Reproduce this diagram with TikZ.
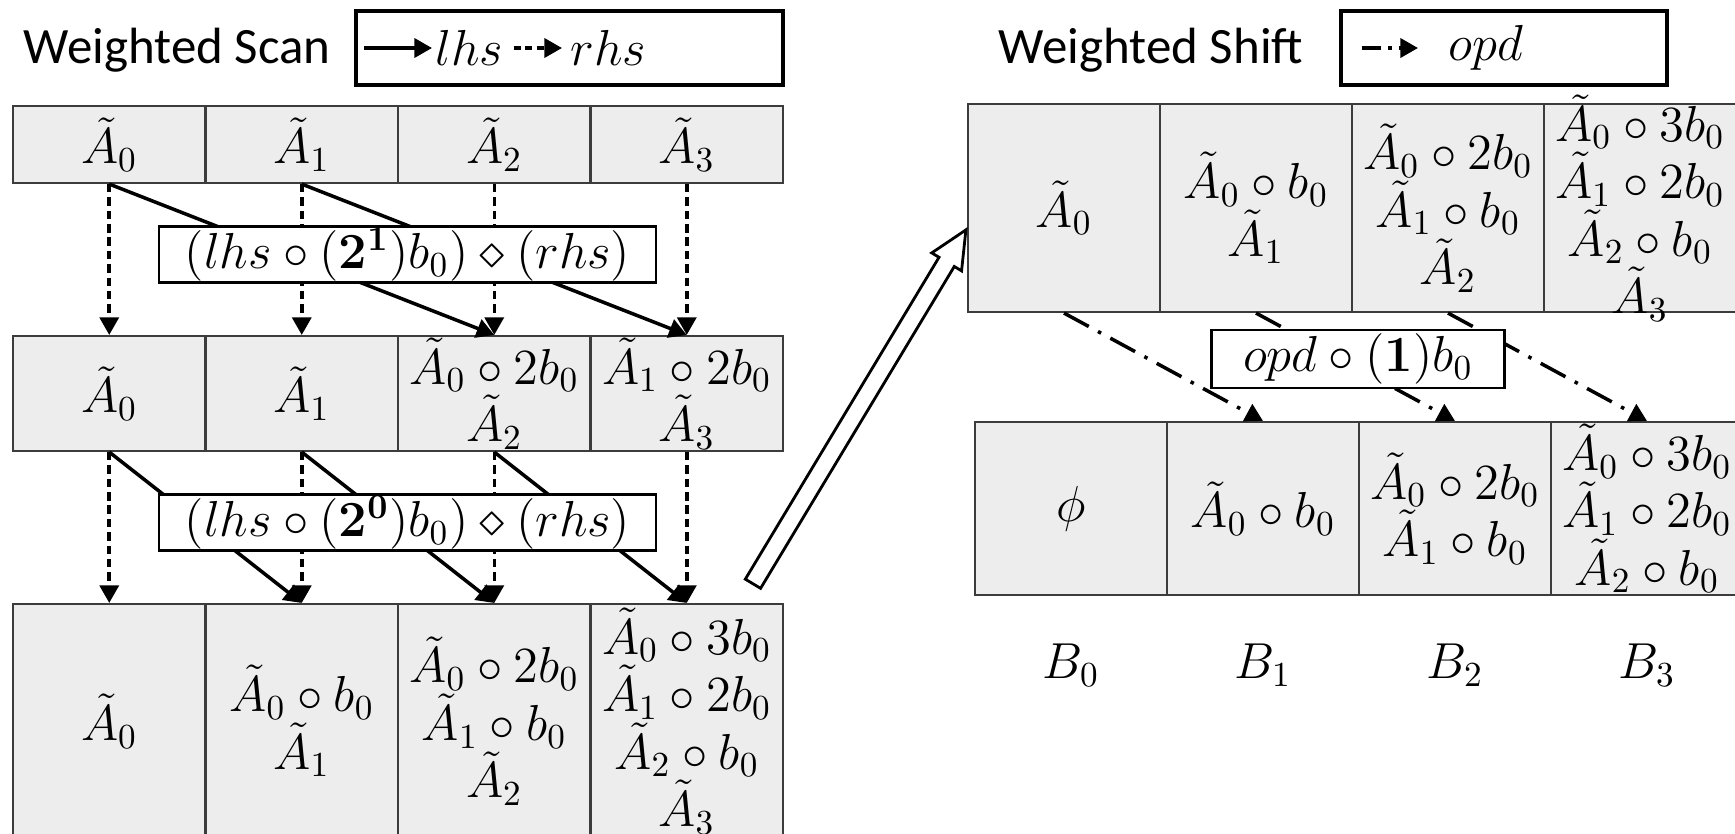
\documentclass[tikz,border=0pt]{standalone}
\usepackage[no-math]{fontspec}
\setmainfont{Carlito}
\definecolor{CellGray}{RGB}{237,237,237}
\definecolor{LineGray}{RGB}{60,60,60}
\usepackage{amsmath, amssymb}
\usepackage{tikz}
\usetikzlibrary{positioning, arrows.meta, shapes.arrows}

\newcommand{\At}[1]{\tilde{A}_{#1}}

\begin{document}
\begin{tikzpicture}[
    cell/.style={draw=LineGray, fill=CellGray, line width=0.6pt, inner xsep=0pt, inner ysep=-4pt,
      minimum width=1.92cm, align=center, font=\fontsize{14.5}{14.5}\selectfont},
    opbox/.style={draw, fill=white, line width=0.8pt, inner sep=0pt,
      minimum height=0.56cm, font=\fontsize{14.5}{14.5}\selectfont},
    legendbox/.style={draw, line width=1pt, minimum height=0.74cm},
    legendtext/.style={anchor=west, inner sep=0pt, font=\fontsize{14.5}{14.5}\selectfont},
    title/.style={font=\fontsize{14.5}{16}\selectfont},
    lhsarrow/.style={-{Triangle[length=5pt, width=5.4pt]}, line width=1pt},
    rhsarrow/.style={lhsarrow, dash pattern=on 2.4pt off 1.4pt},
    opdarrow/.style={lhsarrow, dash pattern=on 8pt off 3pt on 1pt off 3pt},
    flowarrow/.style={draw, fill=white, line width=0.8pt, single arrow,
      single arrow head extend=0.085cm, single arrow tip angle=50,
      inner xsep=0pt, inner ysep=0.075cm}
  ]
  \useasboundingbox (0,0) rectangle (17.35,8.33);
  \fill[white] (0,0) rectangle (17.35,8.33);
  \clip (0,0) rectangle (17.35,8.33);

  % titles and legends
  \node[title] (scantitle) at (1.77,7.83) {Weighted Scan};
  \node[legendbox, minimum width=4.27cm] (scanlegend) at (5.695,7.85) {};
  \coordinate (lhsfrom) at (3.64,7.85);
  \coordinate (lhsto) at (4.32,7.85);
  \coordinate (rhsfrom) at (5.14,7.85);
  \coordinate (rhsto) at (5.62,7.85);
  \node[legendtext] (lhsname) at (4.35,7.85) {$lhs$};
  \node[legendtext] (rhsname) at (5.70,7.85) {$rhs$};
  \draw[lhsarrow] (lhsfrom) -- (lhsto);
  \draw[rhsarrow, dash pattern=on 2pt off 1.2pt] (rhsfrom) -- (rhsto);

  \node[title] (shifttitle) at (11.51,7.83) {Weighted Shift};
  \node[legendbox, minimum width=3.26cm] (shiftlegend) at (15.04,7.85) {};
  \coordinate (opdfrom) at (13.62,7.85);
  \coordinate (opdto) at (14.18,7.85);
  \node[legendtext] (opdname) at (14.48,7.85) {$opd$};
  \draw[opdarrow, dash pattern=on 5.5pt off 2pt on 1pt off 2pt] (opdfrom) -- (opdto);

  % weighted scan rows
  \node[cell, minimum height=0.77cm] (l1c0) at (1.0925,6.885) {$\At0$};
  \node[cell, minimum height=0.77cm] (l1c1) at (3.0175,6.885) {$\At1$};
  \node[cell, minimum height=0.77cm] (l1c2) at (4.9425,6.885) {$\At2$};
  \node[cell, minimum height=0.77cm] (l1c3) at (6.8675,6.885) {$\At3$};

  \node[cell, minimum height=1.15cm] (l2c0) at (1.0925,4.395) {$\At0$};
  \node[cell, minimum height=1.15cm] (l2c1) at (3.0175,4.395) {$\At1$};
  \node[cell, minimum height=1.15cm] (l2c2) at (4.9425,4.395) {$\At0 \circ 2b_0$\\$\At2$};
  \node[cell, minimum height=1.15cm] (l2c3) at (6.8675,4.395) {$\At1 \circ 2b_0$\\$\At3$};

  \node[cell, minimum height=2.34cm] (l3c0) at (1.0925,1.12) {$\At0$};
  \node[cell, minimum height=2.34cm] (l3c1) at (3.0175,1.12) {$\At0 \circ b_0$\\$\At1$};
  \node[cell, minimum height=2.34cm] (l3c2) at (4.9425,1.12) {$\At0 \circ 2b_0$\\$\At1 \circ b_0$\\$\At2$};
  \node[cell, minimum height=2.34cm] (l3c3) at (6.8675,1.12) {$\At0 \circ 3b_0$\\$\At1 \circ 2b_0$\\$\At2 \circ b_0$\\$\At3$};

  % rhs goes straight down, lhs jumps by 2 then by 1
  \foreach \i in {0,1,2,3} {
    \draw[rhsarrow] (l1c\i.south) -- (l2c\i.north);
    \draw[rhsarrow] (l2c\i.south) -- (l3c\i.north);
  }
  \draw[lhsarrow] (l1c0.south) -- (l2c2.north);
  \draw[lhsarrow] (l1c1.south) -- (l2c3.north);
  \draw[lhsarrow] (l2c0.south) -- (l3c1.north);
  \draw[lhsarrow] (l2c1.south) -- (l3c2.north);
  \draw[lhsarrow] (l2c2.south) -- (l3c3.north);

  \node[opbox, minimum width=4.97cm] (step1) at (4.075,5.785)
    {$(lhs \circ (\mathbf{2}^{\mathbf{1}})b_0) \diamond (rhs)$};
  \node[opbox, minimum width=4.97cm] (step0) at (4.075,3.105)
    {$(lhs \circ (\mathbf{2}^{\mathbf{0}})b_0) \diamond (rhs)$};

  % weighted shift rows
  \node[cell, minimum height=2.08cm] (r1c0) at (10.64,6.25) {$\At0$};
  \node[cell, minimum height=2.08cm] (r1c1) at (12.56,6.25) {$\At0 \circ b_0$\\$\At1$};
  \node[cell, minimum height=2.08cm] (r1c2) at (14.48,6.25) {$\At0 \circ 2b_0$\\$\At1 \circ b_0$\\$\At2$};
  \node[cell, minimum height=2.08cm] (r1c3) at (16.40,6.25) {$\At0 \circ 3b_0$\\$\At1 \circ 2b_0$\\$\At2 \circ b_0$\\$\At3$};

  \node[cell, minimum height=1.73cm] (r2c0) at (10.71,3.245) {$\phi$};
  \node[cell, minimum height=1.73cm] (r2c1) at (12.63,3.245) {$\At0 \circ b_0$};
  \node[cell, minimum height=1.73cm] (r2c2) at (14.55,3.245) {$\At0 \circ 2b_0$\\$\At1 \circ b_0$};
  \node[cell, minimum height=1.73cm] (r2c3) at (16.47,3.245) {$\At0 \circ 3b_0$\\$\At1 \circ 2b_0$\\$\At2 \circ b_0$};

  \foreach \i in {0,1,2,3} {
    \node[font=\fontsize{14.5}{14.5}\selectfont] (b\i) at ([yshift=-0.69cm]r2c\i.south) {$B_\i$};
  }

  \draw[opdarrow] (r1c0.south) -- (r2c1.north);
  \draw[opdarrow] (r1c1.south) -- (r2c2.north);
  \draw[opdarrow] (r1c2.south) -- (r2c3.north);

  \node[opbox, minimum width=2.93cm, minimum height=0.58cm] (shiftop) at (13.58,4.74)
    {$opd \circ (\mathbf{1})b_0$};

  % scan result feeds the shift
  \node[flowarrow, rotate=58.96, minimum height=4.13cm] (flow) at (8.545,4.18) {};
\end{tikzpicture}
\end{document}
